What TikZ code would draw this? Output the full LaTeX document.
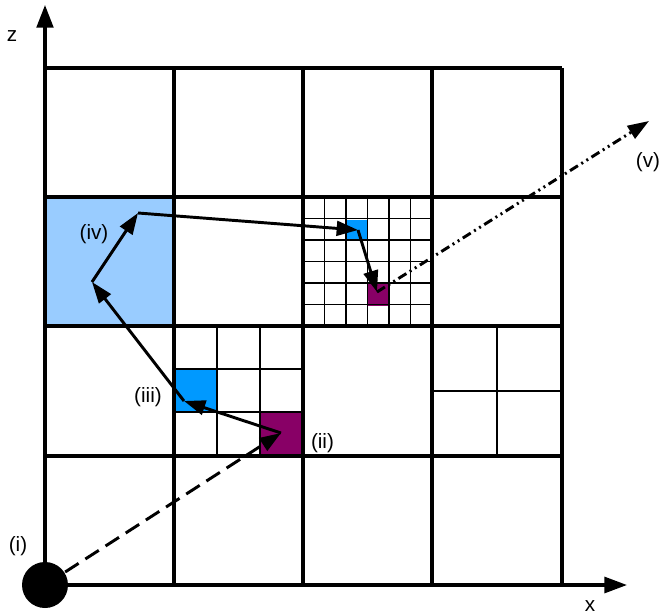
\documentclass[tikz,border=0pt]{standalone}
\usepackage{fontspec}
\setmainfont{Liberation Sans}
\usetikzlibrary{arrows.meta}
\definecolor{lightcell}{HTML}{99CCFF}
\definecolor{bluecell}{HTML}{0099FF}
\definecolor{purplecell}{HTML}{880066}
\tikzset{
  thickgrid/.style={line width=2.3pt},
  finegrid/.style={line width=1.1pt},
  arr/.style={line width=2.2pt,-{Triangle[length=16pt,width=11pt]}},
  lbl/.style={font=\fontsize{15.5}{18}\selectfont,inner sep=0pt},
}
\begin{document}
\begin{tikzpicture}[x=0.75pt,y=-0.75pt]
\useasboundingbox (0,0) rectangle (662,615);
% coloured cells
\fill[lightcell] (45,197) rectangle (174,326);
\fill[bluecell] (174,369) rectangle (217,412);
\fill[purplecell] (260,412) rectangle (303,456);
\fill[bluecell] (346,219.5) rectangle (367.5,241);
\fill[purplecell] (367.5,284) rectangle (389,305.5);
% fine subdivisions
\foreach \v in {217,260} {
  \draw[finegrid] (\v,326) -- (\v,456);
  \draw[finegrid] (174,\v+152) -- (303,\v+152);
}
\foreach \k in {1,...,5} {
  \draw[finegrid] (303+21.5*\k,197) -- (303+21.5*\k,326);
  \draw[finegrid] (303,197+21.5*\k) -- (432,197+21.5*\k);
}
\draw[finegrid] (497,326) -- (497,456);
\draw[finegrid] (432,391) -- (562,391);
% main grid
\foreach \v in {174,303,432,562} \draw[thickgrid] (\v,68) -- (\v,585);
\foreach \v in {68,197,326,456} \draw[thickgrid] (45,\v) -- (562,\v);
% axes
\coordinate (o) at (45,585);
\coordinate (zt) at (45,5);
\coordinate (xt) at (627,585);
\draw[line width=2.3pt,-{Triangle[length=17pt,width=12.5pt]}] (o) -- (zt);
\draw[line width=2.3pt,-{Triangle[length=17pt,width=12pt]}] (o) -- (xt);
\node[circle,fill=black,minimum size=34.5pt,inner sep=0pt] (src) at (o) {};
% path points
\coordinate (p2) at (281,433);
\coordinate (p3) at (184,401);
\coordinate (p4) at (92,282);
\coordinate (p5) at (138,213);
\coordinate (p6) at (358,230);
\coordinate (p7) at (377,292);
\coordinate (p8) at (649,121);
\draw[arr,dash pattern=on 12pt off 6pt] (o) -- (p2);
\draw[arr] (p2) -- (p3);
\draw[arr] (p3) -- (p4);
\draw[arr] (p4) -- (p5);
\draw[arr] (p5) -- (p6);
\draw[arr] (p6) -- (p7);
\draw[arr,dash pattern=on 7pt off 3pt on 1.5pt off 3pt on 1.5pt off 3pt] (p7) -- (p8);
% labels
\node[lbl] (lz) at (12,36) {z};
\node[lbl] (lx) at (590,606) {x};
\node[lbl] (li) at (18,546) {(i)};
\node[lbl] (lii) at (322.5,443) {(ii)};
\node[lbl] (liii) at (148,397) {(iii)};
\node[lbl] (liv) at (94,234) {(iv)};
\node[lbl] (lv) at (648,162) {(v)};
\end{tikzpicture}
\end{document}
